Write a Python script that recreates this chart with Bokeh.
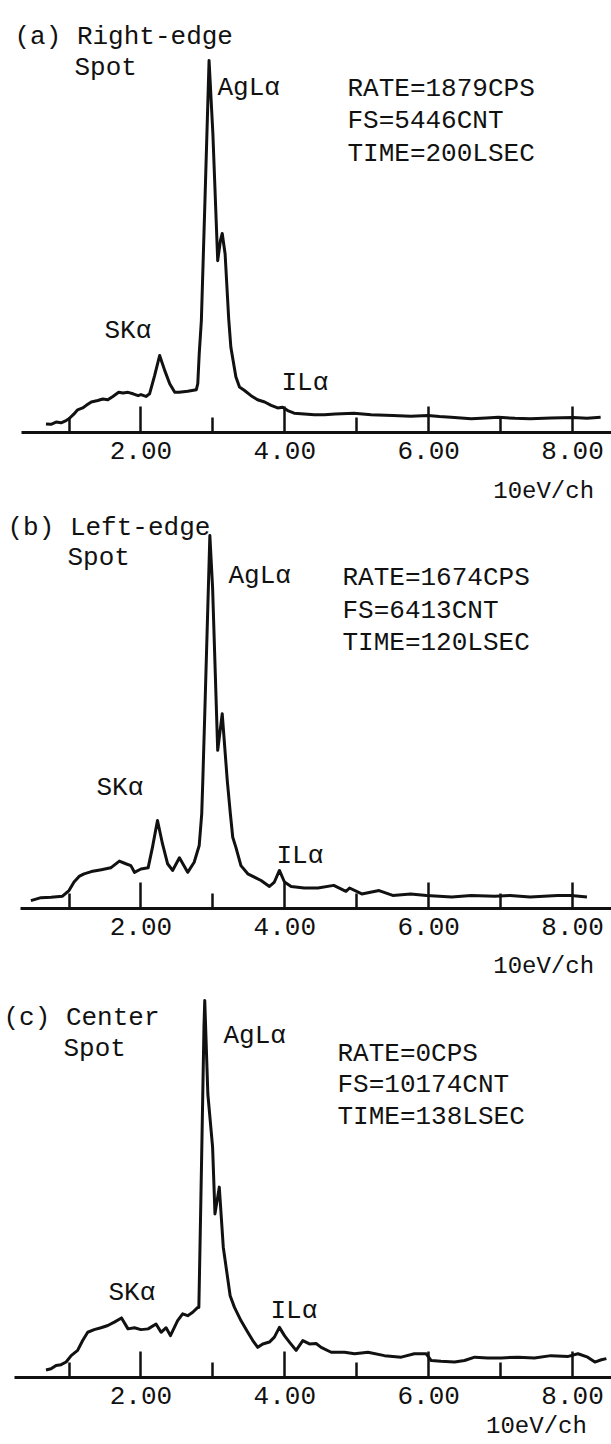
from bokeh.plotting import figure
from bokeh.models import Range1d, FixedTicker, NumeralTickFormatter, Label
from bokeh.layouts import column
from bokeh.embed import file_html
from bokeh.resources import INLINE

FONT = "Liberation Mono"

# ---------------- data (energy in keV, intensity in % of full scale) ----------------
energy_a = [0.68, 0.75, 0.82, 0.89, 0.96, 1.00, 1.07, 1.12, 1.19, 1.24, 1.31, 1.40, 1.47, 1.54,
            1.61, 1.69, 1.75, 1.82, 1.89, 1.96, 2.00, 2.07, 2.12, 2.19, 2.26, 2.33, 2.40, 2.47,
            2.53, 2.65, 2.77, 2.79, 2.81, 2.84, 2.89, 2.947, 3.00, 3.067, 3.105, 3.13, 3.17,
            3.22, 3.25, 3.32, 3.37, 3.44, 3.53, 3.62, 3.72, 3.81, 3.90, 3.97, 4.04, 4.13, 4.27,
            4.41, 4.55, 4.70, 4.96, 5.20, 5.50, 5.75, 5.99, 6.15, 6.31, 6.59, 6.80, 6.97, 7.20,
            7.41, 7.70, 8.01, 8.20, 8.39]
counts_a = [2.3, 2.2, 2.8, 2.6, 3.2, 3.7, 5.0, 6.1, 6.6, 7.3, 8.2, 8.6, 9.0, 8.8,
            9.7, 10.8, 10.6, 10.8, 10.4, 9.9, 10.2, 9.7, 10.4, 15.3, 20.7, 16.7, 13.1, 10.8,
            10.8, 11.1, 11.5, 13.1, 21.1, 30.1, 62.4, 100.0, 80.3, 46.2, 51.6, 53.5, 48.0,
            30.5, 22.9, 14.9, 12.2, 11.3, 9.9, 8.8, 8.2, 7.3, 6.6, 6.8, 5.9, 5.2, 5.0,
            4.8, 4.8, 5.0, 5.2, 4.8, 4.6, 4.4, 4.6, 4.3, 4.1, 3.7, 3.9, 4.1, 3.8,
            3.7, 3.9, 4.0, 3.8, 4.1]

energy_b = [0.47, 0.61, 0.75, 0.91, 1.00, 1.07, 1.14, 1.21, 1.31, 1.45, 1.58, 1.70, 1.79, 1.86,
            1.91, 2.00, 2.10, 2.16, 2.23, 2.30, 2.37, 2.44, 2.535, 2.65, 2.74, 2.81, 2.845, 2.86,
            2.887, 2.958, 2.996, 3.067, 3.13, 3.20, 3.243, 3.276, 3.32, 3.39, 3.485, 3.577, 3.67,
            3.786, 3.855, 3.925, 3.995, 4.088, 4.27, 4.46, 4.68, 4.85, 4.90, 5.07, 5.31, 5.50,
            5.75, 5.97, 6.32, 6.59, 6.92, 7.13, 7.41, 7.79, 7.98, 8.20]
counts_b = [2.1, 2.9, 3.0, 3.3, 4.8, 7.1, 8.6, 9.3, 9.9, 10.4, 10.9, 12.7, 12.0, 11.5,
            9.7, 10.6, 10.9, 16.4, 23.6, 17.3, 12.0, 10.2, 13.6, 9.7, 12.4, 16.9, 25.4, 34.3,
            52.0, 100.0, 86.0, 42.4, 52.2, 34.3, 25.4, 19.1, 16.4, 11.5, 9.3, 8.4, 7.5,
            5.9, 7.1, 10.2, 7.1, 5.9, 5.5, 5.5, 6.2, 4.6, 5.5, 3.9, 4.8, 3.5,
            3.9, 3.5, 3.1, 3.5, 3.3, 3.5, 3.1, 3.5, 3.5, 3.1]

energy_c = [0.68, 0.75, 0.82, 0.89, 0.96, 1.03, 1.12, 1.19, 1.26, 1.35, 1.445, 1.54, 1.63, 1.73,
            1.82, 1.91, 2.00, 2.10, 2.21, 2.28, 2.35, 2.41, 2.51, 2.58, 2.65, 2.72, 2.79, 2.805,
            2.82, 2.843, 2.876, 2.887, 2.93, 2.996, 3.029, 3.089, 3.145, 3.24, 3.30, 3.39, 3.485,
            3.555, 3.624, 3.694, 3.786, 3.855, 3.925, 3.995, 4.064, 4.157, 4.25, 4.342, 4.435,
            4.505, 4.644, 4.83, 4.97, 5.155, 5.385, 5.618, 5.80, 5.965, 6.035, 6.17, 6.36, 6.498,
            6.64, 6.82, 7.01, 7.24, 7.47, 7.70, 7.94, 8.075, 8.21, 8.31, 8.40, 8.47]
counts_c = [2.0, 2.3, 3.2, 3.4, 4.1, 5.8, 7.2, 9.8, 12.0, 12.7, 13.2, 13.8, 14.7, 15.8,
            12.9, 13.2, 12.7, 12.9, 14.2, 12.0, 13.2, 11.1, 15.1, 16.9, 16.4, 17.3, 18.6, 18.6,
            33.7, 57.6, 92.9, 100.0, 75.2, 61.1, 43.4, 50.5, 34.5, 21.7, 18.6, 15.1, 12.0,
            9.8, 8.0, 8.9, 9.4, 10.7, 13.3, 11.1, 9.4, 7.2, 9.8, 8.9, 9.0,
            8.0, 6.7, 6.7, 6.3, 6.7, 5.8, 5.4, 6.3, 6.3, 4.5, 4.3, 4.1, 4.5,
            5.4, 5.2, 5.2, 5.4, 5.2, 5.8, 5.6, 6.3, 5.4, 4.1, 4.7, 5.0]

major_ticks = [2, 4, 6, 8]
minor_ticks = [1, 3, 5, 7]
unit_label = "10eV/ch"

titles = [["(a) Right-edge", "Spot"], ["(b) Left-edge", "Spot"], ["(c) Center", "Spot"]]
infos = [["RATE=1879CPS", "FS=5446CNT", "TIME=200LSEC"],
         ["RATE=1674CPS", "FS=6413CNT", "TIME=120LSEC"],
         ["RATE=0CPS", "FS=10174CNT", "TIME=138LSEC"]]
peak_names = ["AgL\u03b1", "SK\u03b1", "IL\u03b1"]

# ---------------- layout geometry (page pixels, page origin = figure origin) ----------------
W = 611
PX_PER_KEV = 71.94
PX_E1 = 68.5
geom = [
    dict(axis_start=21, top=0, axis=432, scale=3.72, bottom=76, unit_standoff=16, pad=33),
    dict(axis_start=20, top=508, axis=908, scale=3.73, bottom=75, unit_standoff=15, pad=33),
    dict(axis_start=14, top=983, axis=1377, scale=3.77, bottom=66, unit_standoff=6, pad=32),
]
text_pos = [
    dict(title=[(14, 36), (74, 67)], info=[(347, 88), (347, 120), (347, 153)],
         peaks=[(217, 87), (104, 330), (281, 382)]),
    dict(title=[(7, 527), (67, 557)], info=[(342, 577), (342, 610), (342, 642)],
         peaks=[(228, 575), (96, 787), (276, 855)]),
    dict(title=[(3, 1017), (63, 1048)], info=[(337, 1053), (337, 1084), (337, 1116)],
         peaks=[(223, 1035), (108, 1292), (270, 1310)]),
]

series = [(energy_a, counts_a), (energy_b, counts_b), (energy_c, counts_c)]


def to_x(px):
    return 1 + (px - PX_E1) / PX_PER_KEV


figs = []
for i, (g, tp, (ex, cy)) in enumerate(zip(geom, text_pos, series)):
    frame_h = g["axis"] - g["top"]
    H = frame_h + g["bottom"]
    x0 = to_x(0)
    x1 = to_x(W)
    y1 = frame_h / g["scale"]

    p = figure(width=W, height=H, output_backend="svg", toolbar_location=None,
               x_range=Range1d(x0, x1), y_range=Range1d(0, y1),
               y_axis_location=None, min_border=0)
    p.min_border_left = 0
    p.min_border_right = 0
    p.min_border_top = 0
    p.min_border_bottom = g["bottom"]
    p.outline_line_color = None
    p.grid.visible = False
    p.background_fill_color = "white"
    p.border_fill_color = "white"

    p.line(ex, cy, line_color="#111111", line_width=3, line_join="round")

    ax = p.xaxis[0]
    ax.bounds = (to_x(g["axis_start"]), x1)
    ax.ticker = FixedTicker(ticks=major_ticks, minor_ticks=minor_ticks)
    ax.formatter = NumeralTickFormatter(format="0.00")
    ax.axis_line_width = 3
    ax.axis_line_color = "#111111"
    ax.major_tick_in = 26
    ax.major_tick_out = 0
    ax.minor_tick_in = 15
    ax.minor_tick_out = 0
    ax.major_tick_line_width = 2.5
    ax.minor_tick_line_width = 2.5
    ax.major_tick_line_color = "#111111"
    ax.minor_tick_line_color = "#111111"
    ax.major_label_text_font = FONT
    ax.major_label_text_font_size = "26px"
    ax.major_label_text_color = "#111111"
    ax.major_label_standoff = 9

    # unit caption, pushed towards the right end with non-breaking spaces
    ax.axis_label = "\u00a0" * g["pad"] + unit_label
    ax.axis_label_text_font = FONT
    ax.axis_label_text_font_size = "24px"
    ax.axis_label_text_font_style = "normal"
    ax.axis_label_text_color = "#111111"
    ax.axis_label_standoff = g["unit_standoff"]

    def to_y(py, g=g):
        return (g["axis"] - py) / g["scale"]

    def add_text(txt, pos, p=p, to_y=to_y):
        p.add_layout(Label(x=to_x(pos[0]), y=to_y(pos[1]), text=txt, text_font=FONT,
                           text_font_size="26px", text_color="#111111",
                           text_align="left", text_baseline="alphabetic"))

    for txt, pos in zip(titles[i], tp["title"]):
        add_text(txt, pos)
    for txt, pos in zip(infos[i], tp["info"]):
        add_text(txt, pos)
    for txt, pos in zip(peak_names, tp["peaks"]):
        add_text(txt, pos)

    figs.append(p)

layout = column(*figs, spacing=0)
open("out.html", "w").write(file_html(layout, INLINE))
